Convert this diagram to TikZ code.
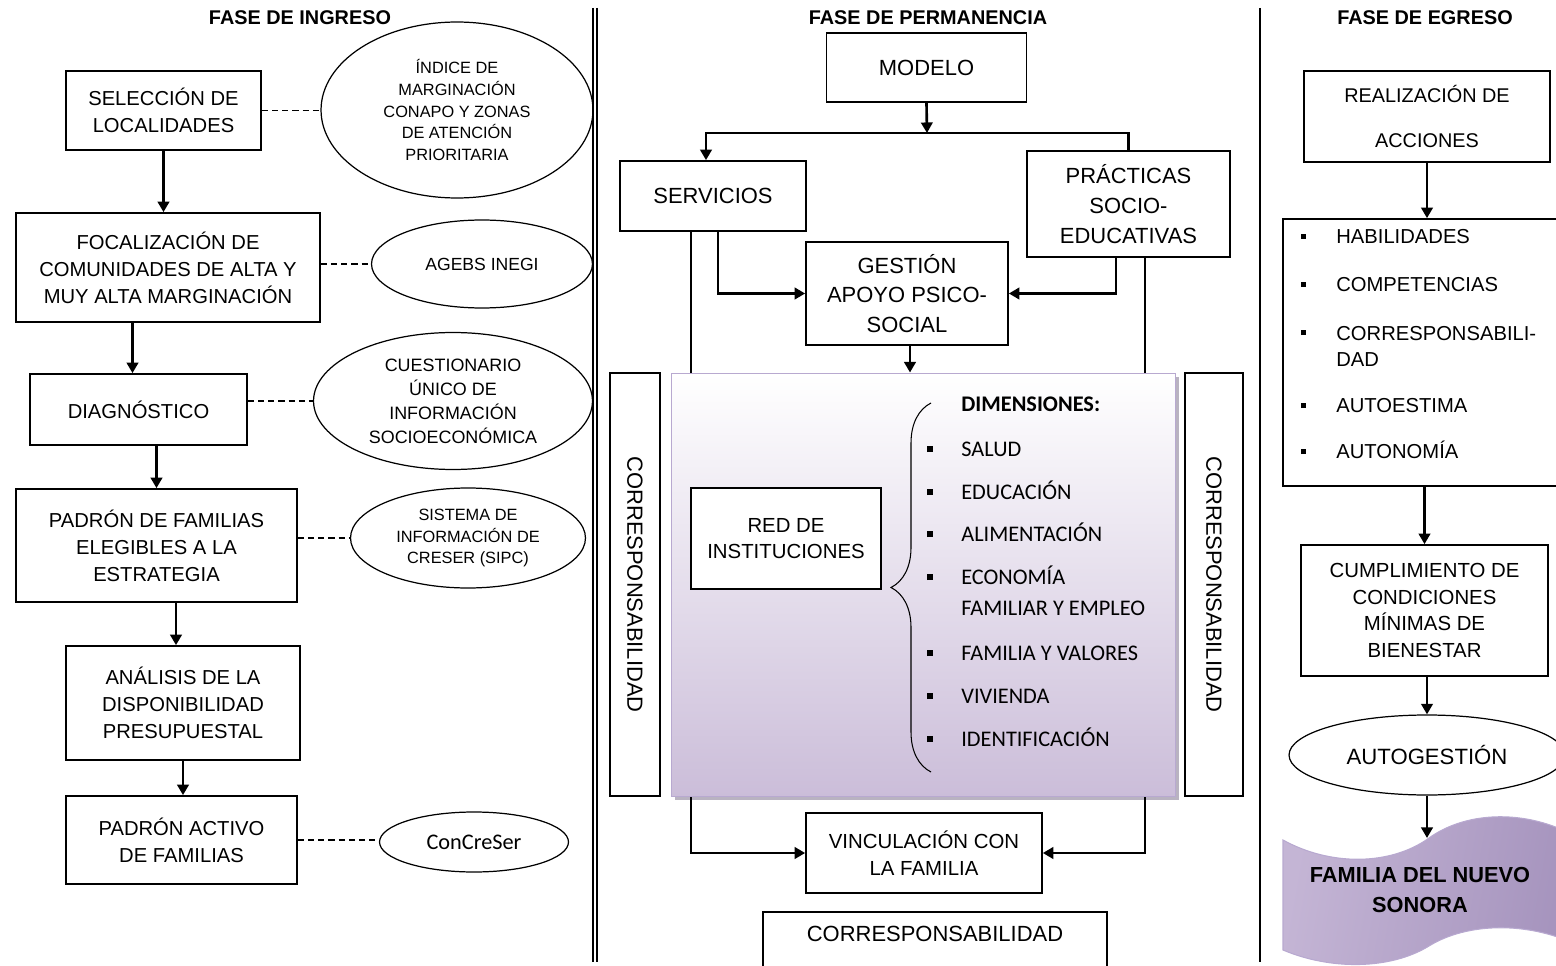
\documentclass[tikz,border=0pt]{standalone}
\usepackage{fontspec}
\setmainfont{Liberation Sans}
\newfontfamily\calib{Carlito}
\usetikzlibrary{shapes.geometric,arrows.meta,shadows,decorations.pathreplacing}
\definecolor{lilac}{HTML}{CBBDD9}
\definecolor{lilacline}{HTML}{B8A9D0}
\definecolor{lilacdark}{HTML}{A593BD}
\definecolor{lilacmid}{HTML}{C4B5D5}
\definecolor{lilaclight}{HTML}{ECE7F1}
\newcommand{\fl}{\fontsize{11.5}{15.4}\selectfont}
\newcommand{\fm}{\fontsize{12.5}{17}\selectfont}
\newcommand{\fs}{\fontsize{9.3}{12.3}\selectfont}
\newcommand{\fd}{\calib\fontsize{12.7}{15}\selectfont}
\newcommand{\dbul}{\makebox[0.68cm][l]{\rule[0.08cm]{0.12cm}{0.12cm}}}
\newcommand{\rbul}{\makebox[0.7cm][l]{\rule[0.1cm]{0.1cm}{0.1cm}}}
\tikzset{
  box/.style={draw, line width=0.95pt, align=center, inner sep=0pt, font=\fl},
  oval/.style={draw, ellipse, line width=0.7pt, align=center, inner sep=0pt},
  conn/.style={line width=1.5pt, -{Triangle[length=6pt,width=6.5pt]}},
  bar/.style={line width=1.5pt},
  link/.style={line width=0.8pt, dash pattern=on 3.5pt off 2.3pt},
  phase/.style={font=\fontsize{11.3}{13}\selectfont\bfseries},
  dimtext/.style={anchor=base west, inner sep=0pt, font=\fd},
  listtext/.style={anchor=base west, inner sep=0pt, font=\fl},
}
\begin{document}
\begin{tikzpicture}[x=0.02cm,y=-0.02cm]
\useasboundingbox (0,0) rectangle (1556,966);
% dividers
\draw[line width=0.8pt] (593,8) -- (593,962) (597,8) -- (597,962);
\draw[line width=1.6pt] (1260,8) -- (1260,962);
\node[phase] (tin) at (300,18) {FASE DE INGRESO};
\node[phase] (tper) at (928,18) {FASE DE PERMANENCIA};
\node[phase] (teg) at (1425,18) {FASE DE EGRESO};
% ingreso
\node[box, minimum width=3.9cm, minimum height=1.58cm] (sel) at (163.5,110.5) {SELECCIÓN DE\\LOCALIDADES};
\node[box, minimum width=6.08cm, minimum height=2.18cm] (foc) at (168,267.5) {FOCALIZACIÓN DE\\COMUNIDADES DE ALTA Y\\MUY ALTA MARGINACIÓN};
\node[box, minimum width=4.34cm, minimum height=1.42cm] (diag) at (138.5,409.5) {DIAGNÓSTICO};
\node[box, minimum width=5.62cm, minimum height=2.26cm] (padr) at (156.5,545.5) {PADRÓN DE FAMILIAS\\ELEGIBLES A LA\\ESTRATEGIA};
\node[box, minimum width=4.68cm, minimum height=2.28cm] (anal) at (183,703) {ANÁLISIS DE LA\\DISPONIBILIDAD\\PRESUPUESTAL};
\node[box, minimum width=4.62cm, minimum height=1.76cm] (activo) at (181.5,840) {PADRÓN ACTIVO\\DE FAMILIAS};
\node[oval, minimum width=5.44cm, minimum height=3.52cm, font=\fs] (indice) at (457,110) {ÍNDICE DE\\MARGINACIÓN\\CONAPO Y ZONAS\\DE ATENCIÓN\\PRIORITARIA};
\node[oval, minimum width=4.42cm, minimum height=1.76cm, font=\fontsize{10}{12}\selectfont] (agebs) at (482,264) {AGEBS INEGI};
\node[oval, minimum width=5.58cm, minimum height=2.74cm, font=\fontsize{10.2}{13.7}\selectfont] (cuest) at (453,401) {CUESTIONARIO\\ÚNICO DE\\INFORMACIÓN\\SOCIOECONÓMICA};
\node[oval, minimum width=4.7cm, minimum height=2cm, font=\fontsize{9.3}{12.5}\selectfont] (sipc) at (468,538) {SISTEMA DE\\INFORMACIÓN DE\\CRESER (SIPC)};
\node[oval, minimum width=3.78cm, minimum height=1.2cm, font=\fd] (concr) at (474,842) {ConCreSer};
\draw[conn] (sel.south) -- (sel.south |- foc.north);
\draw[conn] ([xshift=-0.12cm]diag.north |- foc.south) -- ([xshift=-0.12cm]diag.north);
\draw[conn] (padr.north |- diag.south) -- (padr.north);
\draw[conn] ([xshift=-0.14cm]anal.north |- padr.south) -- ([xshift=-0.14cm]anal.north);
\draw[conn] (anal.south) -- (anal.south |- activo.north);
\draw[link] (sel.east) -- (sel.east -| indice.west);
\draw[link] (agebs.west -| foc.east) -- (agebs.west);
\draw[link] (cuest.west -| diag.east) -- (cuest.west);
\draw[link] (sipc.west -| padr.east) -- (sipc.west);
\draw[link] (activo.east) -- (activo.east -| concr.west);
% permanencia
\node[box, font=\fm, minimum width=4cm, minimum height=1.38cm] (modelo) at (926.5,67.5) {MODELO};
\coordinate (split) at (927,133);
\node[box, font=\fm, minimum width=3.72cm, minimum height=1.4cm] (serv) at (713,196) {SERVICIOS};
\node[box, font=\fm, minimum width=4.06cm, minimum height=2.12cm] (prac) at (1128.5,204) {PRÁCTICAS\\SOCIO-\\EDUCATIVAS};
\node[box, font=\fm, minimum width=4.04cm, minimum height=2.06cm] (gest) at (907,293.5) {GESTIÓN\\APOYO PSICO-\\SOCIAL};
\node[draw=lilacline, line width=0.6pt, top color=white, bottom color=lilac, minimum width=10.1cm, minimum height=8.48cm,
  drop shadow={shadow xshift=2pt, shadow yshift=-2pt, fill=lilacdark!70!black, opacity=.5}] (dim) at (923.5,585) {};
\node[box, font=\fm, rotate=-90, minimum width=8.46cm, minimum height=1cm] (corl) at (635,584.5) {CORRESPONSABILIDAD};
\node[box, font=\fm, rotate=-90, minimum width=8.46cm, minimum height=1.16cm] (corr) at (1214,584.5) {CORRESPONSABILIDAD};
\node[box, fill=white, font=\fontsize{11.6}{14.8}\selectfont, minimum width=3.8cm, minimum height=2.02cm] (inst) at (786,538.5) {RED DE\\INSTITUCIONES};
\draw[line width=0.6pt, decorate, decoration={brace, amplitude=0.8cm, aspect=0.5}] (931,772) -- (931,403);
\node[dimtext, font=\fd\bfseries] (dtit) at (961,412) {DIMENSIONES:};
\node[dimtext] (dsal) at (927,456) {\dbul SALUD};
\node[dimtext] (dedu) at (927,499) {\dbul EDUCACIÓN};
\node[dimtext] (dali) at (927,541) {\dbul ALIMENTACIÓN};
\node[dimtext] (deco) at (927,584) {\dbul ECONOMÍA};
\node[dimtext] (deco2) at (961,615) {FAMILIAR Y EMPLEO};
\node[dimtext] (dfam) at (927,660) {\dbul FAMILIA Y VALORES};
\node[dimtext] (dviv) at (927,703) {\dbul VIVIENDA};
\node[dimtext] (dide) at (927,746) {\dbul IDENTIFICACIÓN};
\node[box, font=\fontsize{11.6}{15.4}\selectfont, minimum width=4.72cm, minimum height=1.6cm] (vinc) at (924,853) {VINCULACIÓN CON\\LA FAMILIA};
\node[box, font=\fm, anchor=north, minimum width=6.88cm, text height=0.6cm, text depth=0.8cm] (corb) at (935,911) {CORRESPONSABILIDAD};
\draw[conn] (modelo.south) -- (split);
\draw[conn] (prac.north) |- (split) -| ([xshift=-0.14cm]serv.north);
\draw[conn] ([xshift=0.1cm]serv.south) |- (gest.west);
\draw[conn] ([xshift=-0.25cm]prac.south) |- (gest.east);
\draw[conn] ([xshift=0.06cm]gest.south) -- ([xshift=0.06cm]gest.south |- dim.north);
\draw[bar] ([xshift=-0.44cm]serv.south) -- ([xshift=-0.44cm]serv.south |- dim.north);
\draw[bar] ([xshift=0.33cm]prac.south) -- ([xshift=0.33cm]prac.south |- dim.north);
\draw[conn] ([xshift=-0.44cm]serv.south |- dim.south) |- (vinc.west);
\draw[conn] ([xshift=0.33cm]prac.south |- dim.south) |- (vinc.east);
% egreso
\node[box, font=\fontsize{11.3}{26}\selectfont, minimum width=4.92cm, minimum height=1.82cm] (real) at (1427,116.5) {REALIZACIÓN DE\\ACCIONES};
\node[box, minimum width=5.94cm, minimum height=5.34cm] (lista) at (1431.5,352.5) {};
\node[listtext] (lhab) at (1301,244) {\rbul HABILIDADES};
\node[listtext] (lcom) at (1301,292) {\rbul COMPETENCIAS};
\node[listtext] (lcor) at (1301,340) {\rbul CORRESPONSABILI-};
\node[listtext] (lcor2) at (1336,366) {DAD};
\node[listtext] (laue) at (1301,413) {\rbul AUTOESTIMA};
\node[listtext] (laun) at (1301,459) {\rbul AUTONOMÍA};
\node[box, font=\fontsize{11.6}{15.2}\selectfont, minimum width=4.94cm, minimum height=2.62cm] (cumpl) at (1424.5,610.5) {CUMPLIMIENTO DE\\CONDICIONES\\MÍNIMAS DE\\BIENESTAR};
\node[oval, font=\fontsize{12.6}{15}\selectfont, minimum width=5.52cm, minimum height=1.6cm] (autog) at (1427,755) {AUTOGESTIÓN};
% punched tape
\shade[draw=lilacline, line width=0.6pt, left color=lilacmid, middle color=lilaclight, right color=lilacdark, shading angle=80]
  (1283,840) .. controls (1330,866) and (1390,866) .. (1429,838) .. controls (1468,810) and (1528,810) .. (1575,836)
  -- (1575,944) .. controls (1528,922) and (1468,922) .. (1429,946) .. controls (1390,970) and (1330,970) .. (1283,950) -- cycle;
\coordinate (famtop) at (1429,838);
\node[align=center, font=\fontsize{12.4}{17}\selectfont\bfseries] (fam) at (1420,890) {FAMILIA DEL NUEVO\\SONORA};
\draw[conn] (real.south) -- (real.south |- lista.north);
\draw[conn] (cumpl.north |- lista.south) -- (cumpl.north);
\draw[conn] (autog.north |- cumpl.south) -- (autog.north);
\draw[conn] (autog.south) -- (autog.south |- famtop);
\end{tikzpicture}
\end{document}
